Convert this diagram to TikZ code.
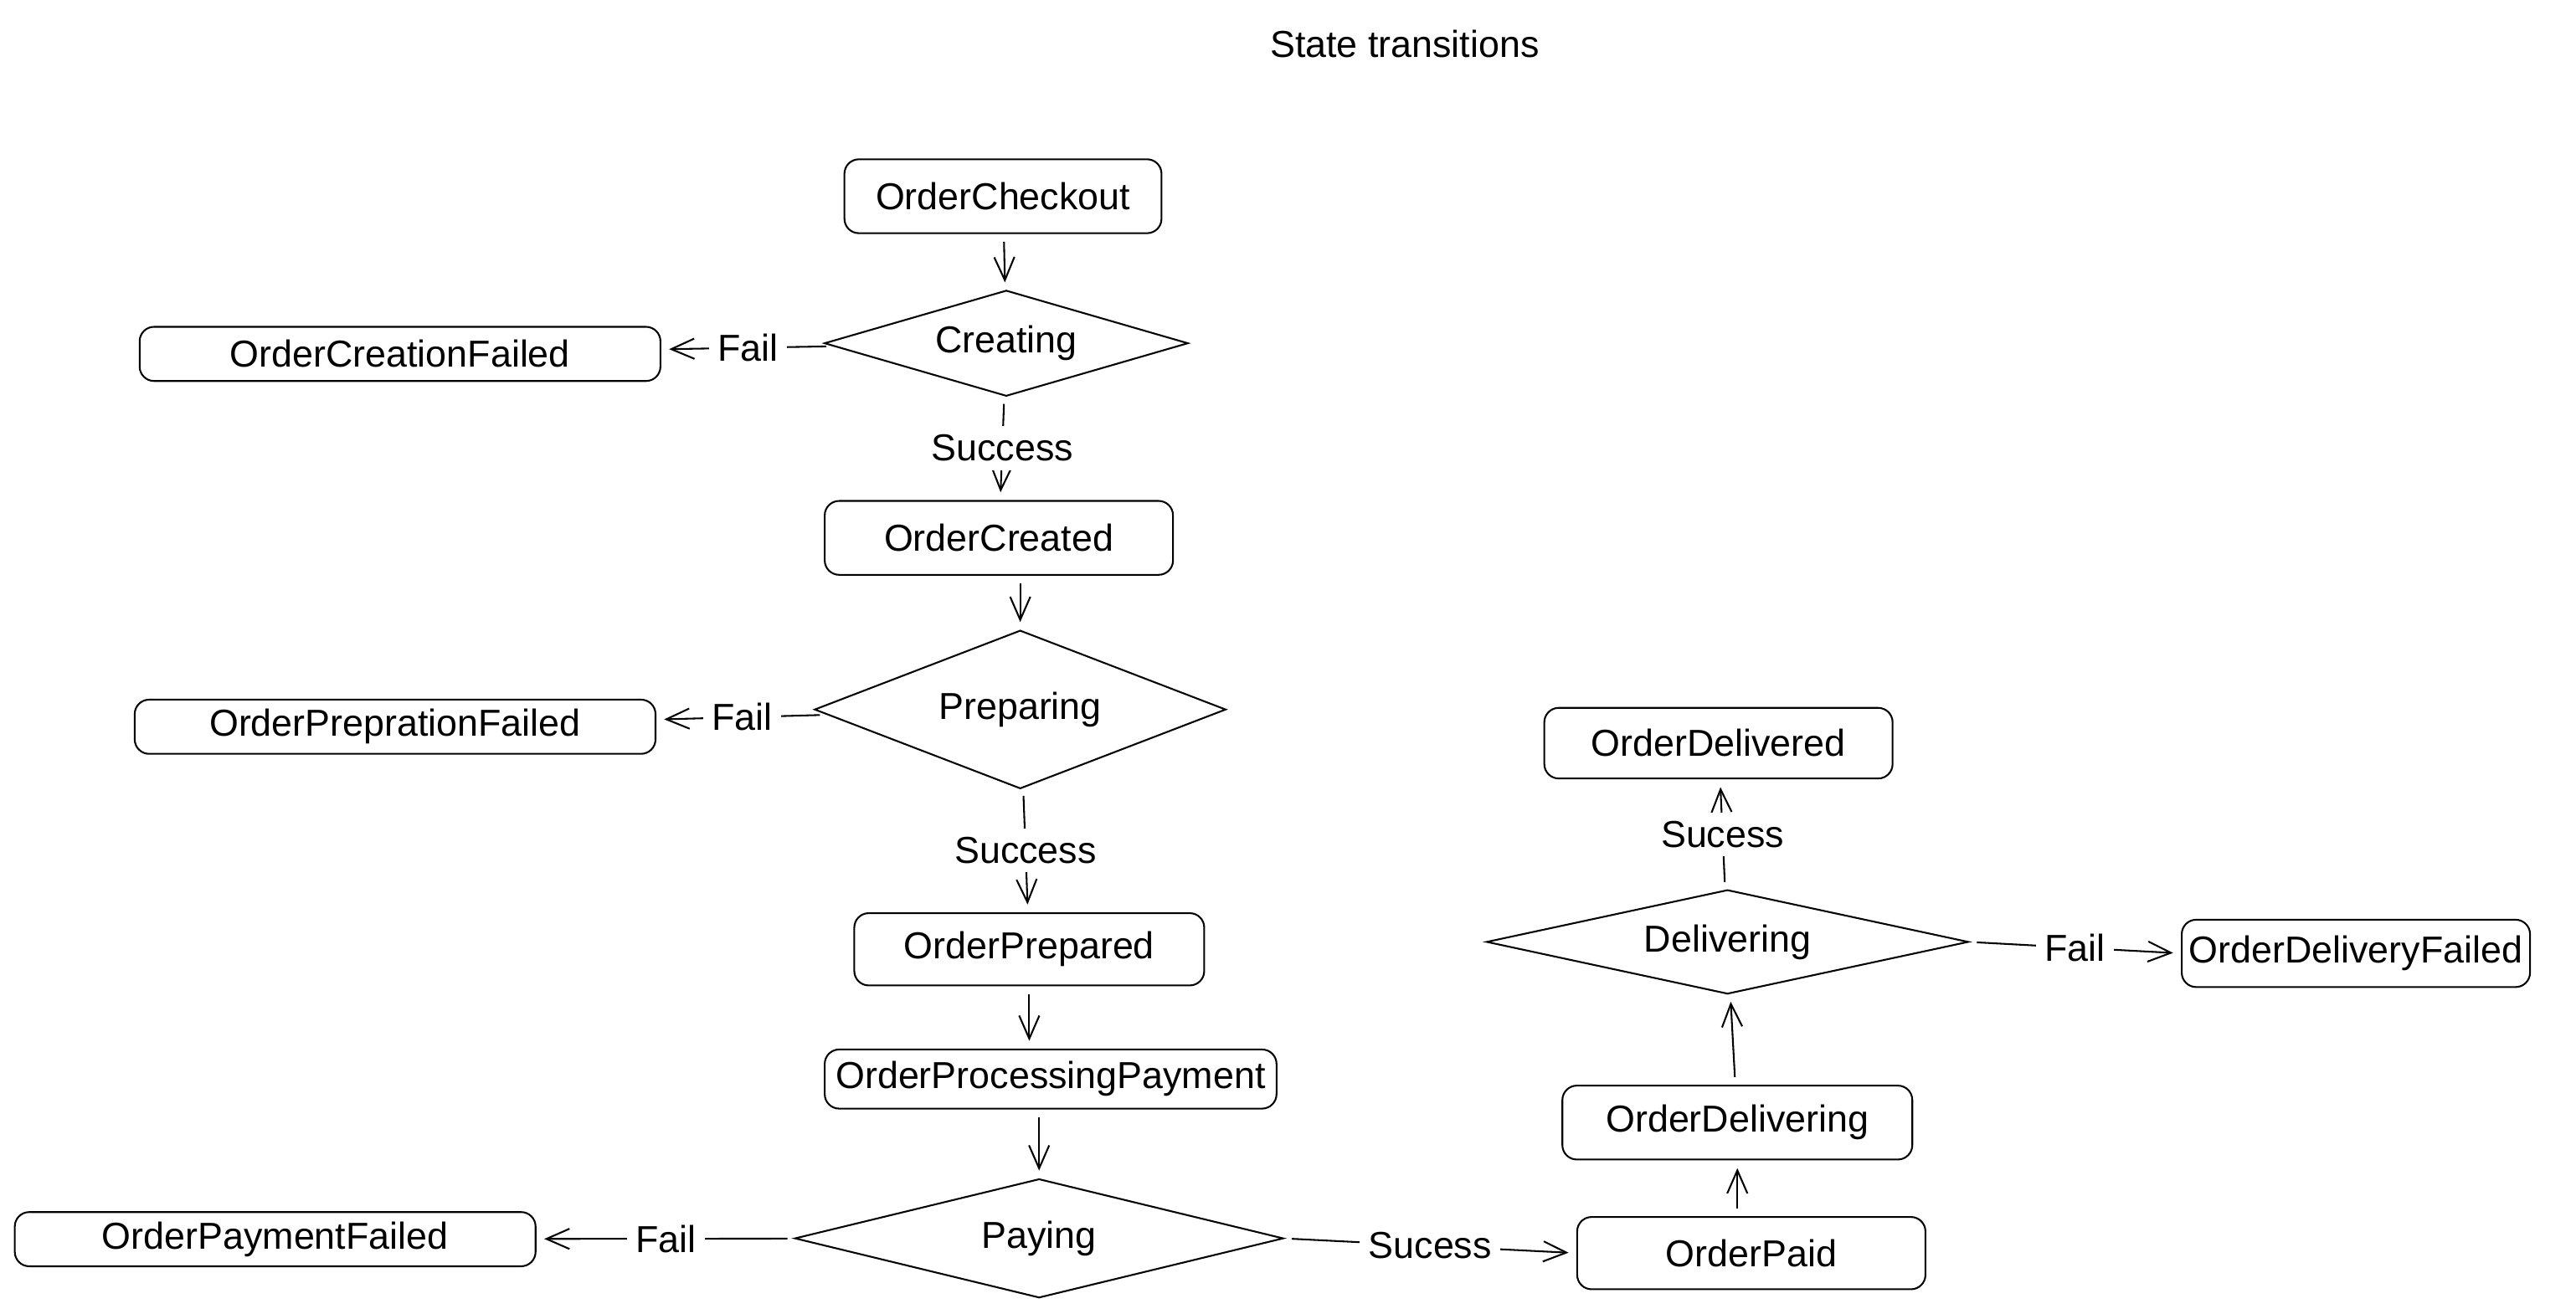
\documentclass[tikz,border=0pt]{standalone}
\usepackage{fontspec}
\setmainfont{Liberation Sans}
\usepackage{tikz}
\usetikzlibrary{positioning}
\usetikzlibrary{shapes.geometric,arrows.meta}

\begin{document}
\begin{tikzpicture} [every node/.style={outer sep=0pt,font=\fontsize{13pt}{15pt}\selectfont},line width=0.6pt,>={Straight Barb[length=8pt,width=7pt]}]

\tikzstyle{state}=[draw,rounded corners=5pt,inner sep=0pt,minimum width=4.24cm,minimum height=0.88cm]
\tikzstyle{failed}=[state,minimum width=6.34cm,minimum height=0.66cm]
\tikzstyle{decision}=[draw,diamond,aspect=4,inner sep=1pt]
\tikzstyle{flow}=[->,shorten >=3pt,shorten <=3pt]
\tikzstyle{cond}=[fill=white,inner sep=3pt]

\useasboundingbox (0,0) rectangle (31.36,16);

\node (title) at (17.10,15.46) {State transitions};

\begin{scope}[]
\node (checkout) [state,minimum width=3.86cm,minimum height=0.9cm] at (12.21,13.61) {OrderCheckout};
\node (creating) [decision,minimum width=4.42cm,minimum height=1.28cm] at (12.25,11.82) {Creating};
\node (creationFailed) [failed] at (4.87,11.69) {OrderCreationFailed};
\node (created) [state,minimum height=0.9cm] at (12.16,9.45) {OrderCreated};
\node (preparing) [decision,minimum width=5cm,minimum height=1.92cm] at (12.42,7.36) {Preparing};
\node (preprationFailed) [failed] at (4.81,7.15) {OrderPreprationFailed};
\node (prepared) [state,minimum width=4.26cm] at (12.53,4.44) {OrderPrepared};
\node (processing) [state,minimum width=5.5cm,minimum height=0.72cm] at (12.79,2.86) {OrderProcessingPayment};
\node (paying) [decision,minimum width=5.94cm,minimum height=1.44cm] at (12.65,0.92) {Paying};
\node (paymentFailed) [failed] at (3.35,0.91) {OrderPaymentFailed};
\end{scope}

\begin{scope}[]
\node (paid) [state] at (21.32,0.74) {OrderPaid};
\node (deliveringBox) [state,minimum width=4.26cm,minimum height=0.9cm] at (21.15,2.33) {OrderDelivering};
\node (delivering) [decision,minimum width=5.86cm,minimum height=1.26cm] at (21.03,4.53) {Delivering};
\node (deliveryFailed) [state,minimum height=0.82cm] at (28.68,4.39) {OrderDeliveryFailed};
\node (delivered) [state,minimum height=0.86cm] at (20.92,6.95) {OrderDelivered};
\end{scope}

%\draw[step=1cm,gray,very thin] (0,0) grid (31,16);
\draw [flow] (checkout) -- (creating);
\draw [flow] (creating) -- node [cond] {Fail} (creationFailed);
\draw [flow] (creating) -- node [cond] {Success} (created);
\draw [flow] (created.south -| preparing.north) -- (preparing.north);
\draw [flow] (preparing) -- node [cond] {Fail} (preprationFailed);
\draw [flow] (preparing) -- node [cond] {Success} (prepared);
\draw [flow] (prepared.south) -- (prepared.south |- processing.north);
\draw [flow] (processing.south -| paying.north) -- (paying.north);
\draw [flow] (paying) -- node [cond] {Fail} (paymentFailed);
\draw [flow] (paying.east) -- node [cond] {Sucess} (paid.west);
\draw [flow] (paid.north -| deliveringBox.south) -- (deliveringBox.south);
\draw [flow] (deliveringBox) -- (delivering);
\draw [flow] (delivering) -- node [cond] {Sucess} (delivered);
\draw [flow] (delivering.east) -- node [cond] {Fail} (deliveryFailed.west);

\end{tikzpicture}
\end{document}
